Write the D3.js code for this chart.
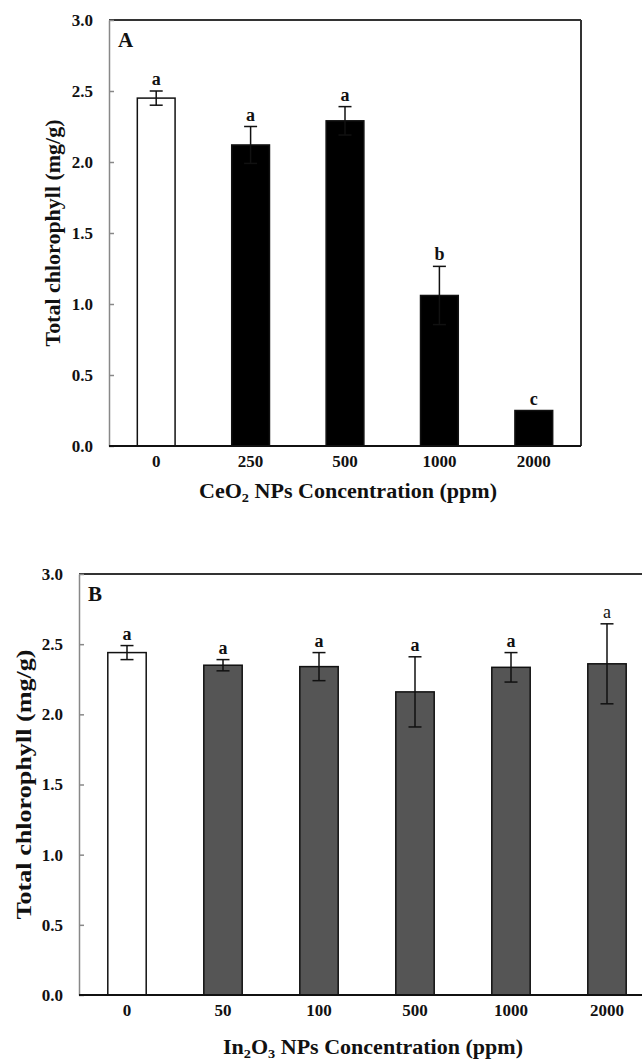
<!DOCTYPE html>
<html>
<head>
<meta charset="utf-8">
<script src="https://cdn.jsdelivr.net/npm/d3@7"></script>
<style>
  body { margin: 0; background: #fff; }
  svg { display: block; font-family: "Liberation Serif", "Times New Roman", serif; }
</style>
</head>
<body>
<svg id="drawing_region"></svg>
<script>
// panel A: CeO2
const concA = ['0', '250', '500', '1000', '2000'];
const chlA = [2.45, 2.12, 2.29, 1.06, 0.25];
const errA = [0.05, 0.13, 0.10, 0.205, 0.0];
const letA = ['a', 'a', 'a', 'b', 'c'];

// panel B: In2O3
const concB = ['0', '50', '100', '500', '1000', '2000'];
const chlB = [2.44, 2.35, 2.34, 2.16, 2.335, 2.36];
const errB = [0.05, 0.04, 0.10, 0.25, 0.105, 0.285];
const letB = ['a', 'a', 'a', 'a', 'a', 'a'];

const yTicks = [0, 0.5, 1.0, 1.5, 2.0, 2.5, 3.0];

const svg = d3.select('#drawing_region')
    .attr('width', 642)
    .attr('height', 1060);

function drawPanel(cfg, conc, vals, errs, lets) {
    const data = conc.map((c, i) => ({ c: c, v: vals[i], e: errs[i], l: lets[i], i: i }));
    const g = svg.append('g');

    const x = d3.scaleBand()
        .domain(conc)
        .range([cfg.left, cfg.right])
        .paddingInner(0.6)
        .paddingOuter(0.3);

    const y = d3.scaleLinear()
        .domain([0, 3])
        .range([cfg.bottom, cfg.top]);

    // top / right frame
    g.append('line')
        .attr('x1', cfg.left).attr('x2', cfg.frameRight)
        .attr('y1', cfg.top).attr('y2', cfg.top)
        .attr('stroke', '#333').attr('stroke-width', 2);
    if (cfg.rightBorder) {
        g.append('line')
            .attr('x1', cfg.frameRight).attr('x2', cfg.frameRight)
            .attr('y1', cfg.top).attr('y2', cfg.bottom)
            .attr('stroke', '#333').attr('stroke-width', 2);
    }

    // bars
    g.selectAll('rect.bar')
        .data(data)
        .enter()
        .append('rect')
        .attr('class', 'bar')
        .attr('x', d => x(d.c))
        .attr('width', x.bandwidth())
        .attr('y', d => y(d.v))
        .attr('height', d => y(0) - y(d.v))
        .attr('fill', d => d.i === 0 ? '#fff' : cfg.fill)
        .attr('stroke', '#111')
        .attr('stroke-width', 1.5);

    // error bars
    const eb = g.selectAll('g.err')
        .data(data.filter(d => d.e > 0))
        .enter()
        .append('g')
        .attr('stroke', '#111')
        .attr('stroke-width', 1.5);
    const cx = d => x(d.c) + x.bandwidth() / 2;
    eb.append('line')
        .attr('x1', cx).attr('x2', cx)
        .attr('y1', d => y(d.v + d.e)).attr('y2', d => y(d.v - d.e));
    eb.append('line')
        .attr('x1', d => cx(d) - 6.5).attr('x2', d => cx(d) + 6.5)
        .attr('y1', d => y(d.v + d.e)).attr('y2', d => y(d.v + d.e));
    eb.append('line')
        .attr('x1', d => cx(d) - 6.5).attr('x2', d => cx(d) + 6.5)
        .attr('y1', d => y(d.v - d.e)).attr('y2', d => y(d.v - d.e));

    // significance letters
    g.selectAll('text.letter')
        .data(data)
        .enter()
        .append('text')
        .attr('x', cx)
        .attr('y', d => y(d.v + d.e) - 6)
        .attr('text-anchor', 'middle')
        .attr('font-size', 18)
        .attr('font-weight', d => (cfg.plainLast && d.i === data.length - 1) ? 'normal' : 'bold')
        .attr('fill', '#111')
        .text(d => d.l);

    // y axis
    const yaxis = d3.axisLeft(y)
        .tickValues(yTicks)
        .tickFormat(d3.format('.1f'))
        .tickSize(-5)
        .tickSizeOuter(0)
        .tickPadding(16);
    const ya = g.append('g')
        .attr('transform', `translate(${cfg.left},0)`)
        .call(yaxis);
    ya.select('.domain').attr('stroke', '#888').attr('stroke-width', 1.5);
    ya.selectAll('.tick line').attr('stroke', '#888').attr('stroke-width', 1.5);
    ya.selectAll('.tick text')
        .attr('font-family', '"Liberation Serif", serif')
        .attr('font-size', 17)
        .attr('font-weight', 'bold')
        .attr('fill', '#111');

    // x axis
    const xaxis = d3.axisBottom(x)
        .tickSize(0)
        .tickSizeOuter(0)
        .tickPadding(9);
    const xa = g.append('g')
        .attr('transform', `translate(0,${cfg.bottom})`)
        .call(xaxis);
    xa.select('.domain')
        .attr('d', `M${cfg.left},0H${cfg.frameRight}`)
        .attr('stroke', '#111').attr('stroke-width', 2);
    xa.selectAll('.tick text')
        .attr('font-family', '"Liberation Serif", serif')
        .attr('font-size', 17)
        .attr('font-weight', 'bold')
        .attr('fill', '#111');

    // panel letter
    g.append('text')
        .attr('x', cfg.left + 9)
        .attr('y', cfg.top + 27)
        .attr('font-size', 21)
        .attr('font-weight', 'bold')
        .attr('fill', '#111')
        .text(cfg.tag);

    // y title
    g.append('text')
        .attr('transform', `translate(${cfg.yTitleX},${(cfg.top + cfg.bottom) / 2}) rotate(-90)`)
        .attr('text-anchor', 'middle')
        .attr('dy', '0.35em')
        .attr('font-size', 20)
        .attr('font-weight', 'bold')
        .attr('fill', '#111')
        .attr('textLength', cfg.yTitleLen)
        .attr('lengthAdjust', 'spacingAndGlyphs')
        .text('Total chlorophyll (mg/g)');

    // x title with subscripts
    const xt = g.append('text')
        .attr('x', cfg.xTitleX)
        .attr('y', cfg.xTitleY)
        .attr('text-anchor', 'middle')
        .attr('dy', '0.3em')
        .attr('font-size', 20)
        .attr('font-weight', 'bold')
        .attr('fill', '#111')
        .attr('textLength', cfg.xTitleLen)
        .attr('lengthAdjust', 'spacingAndGlyphs');
    cfg.xTitle.forEach(part => {
        const t = xt.append('tspan').text(part[0]);
        if (part[1]) {
            t.attr('font-size', 13).attr('dy', 4);
        } else if (part[2]) {
            t.attr('dy', -4);
        }
    });
}

drawPanel({
    tag: 'A', left: 109, right: 581, frameRight: 581, top: 20, bottom: 446,
    fill: '#000', rightBorder: true, plainLast: false,
    yTitleX: 53, yTitleLen: 227,
    xTitleX: 348, xTitleY: 492, xTitleLen: 298,
    xTitle: [['CeO'], ['2', true], [' NPs Concentration (ppm)', false, true]]
}, concA, chlA, errA, letA);

drawPanel({
    tag: 'B', left: 79, right: 655, frameRight: 660, top: 574, bottom: 995,
    fill: '#555', rightBorder: false, plainLast: true,
    yTitleX: 24, yTitleLen: 270,
    xTitleX: 373, xTitleY: 1048, xTitleLen: 300,
    xTitle: [['In'], ['2', true], ['O', false, true], ['3', true], [' NPs Concentration (ppm)', false, true]]
}, concB, chlB, errB, letB);
</script>
</body>
</html>
